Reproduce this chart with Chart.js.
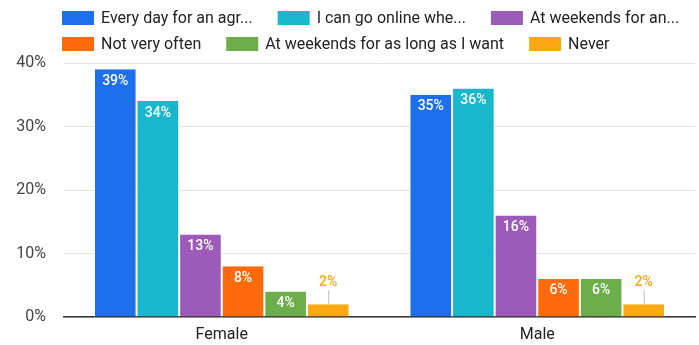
<!DOCTYPE html>
<html>
<head>
<meta charset="utf-8">
<script src="https://cdn.jsdelivr.net/npm/chart.js@4/dist/chart.umd.min.js"></script>
<style>
  html, body { margin: 0; padding: 0; background: #fff; }
  #wrap { width: 699px; height: 345px; }
</style>
</head>
<body>
<div id="wrap"><canvas id="c" width="699" height="345"></canvas></div>
<script>
// Groups on the x axis
const categories = ['Female', 'Male'];

// Answer options (legend text, as shown)
const seriesNames = [
  'Every day for an agr...',
  'I can go online whe...',
  'At weekends for an...',
  'Not very often',
  'At weekends for as long as I want',
  'Never'
];

// Share of respondents (%) per answer, [Female, Male]
const everyDay       = [39, 35];
const canGoOnline    = [34, 36];
const weekendsAgreed = [13, 16];
const notVeryOften   = [8, 6];
const weekendsLong   = [4, 6];
const never          = [2, 2];

const yTicks = [0, 10, 20, 30, 40];

const seriesValues = [everyDay, canGoOnline, weekendsAgreed, notVeryOften, weekendsLong, never];
const seriesColors = ['#1d6fec', '#19b7cb', '#9d5bb9', '#ff6a0d', '#6caf4a', '#fba812'];

const FONT = 'Roboto, "Noto Sans", sans-serif';

// Legend drawn on the canvas as a left-aligned flowing list
const flowLegend = {
  id: 'flowLegend',
  afterDraw(chart) {
    const ctx = chart.ctx;
    ctx.save();
    ctx.font = '16px ' + FONT;
    ctx.textBaseline = 'middle';
    const left = 62, maxRight = 695, boxW = 32, boxH = 14, textGap = 7, gap = 25, rowH = 26;
    let x = left, y = 18;
    chart.data.datasets.forEach(ds => {
      const w = boxW + textGap + ctx.measureText(ds.label).width;
      if (x + w > maxRight && x > left) { x = left; y += rowH; }
      ctx.fillStyle = ds.backgroundColor;
      ctx.fillRect(x, y - boxH / 2, boxW, boxH);
      ctx.fillStyle = '#222';
      ctx.textAlign = 'left';
      ctx.fillText(ds.label, x + boxW + textGap, y + 1);
      x += w + gap;
    });
    ctx.restore();
  }
};

// Percentage labels on each bar
const barLabels = {
  id: 'barLabels',
  afterDatasetsDraw(chart) {
    const ctx = chart.ctx;
    ctx.save();
    ctx.font = '500 14px ' + FONT;
    ctx.textAlign = 'center';
    ctx.textBaseline = 'middle';
    chart.data.datasets.forEach((ds, di) => {
      chart.getDatasetMeta(di).data.forEach((bar, i) => {
        const v = ds.data[i];
        const txt = v + '%';
        if (v <= 2) {
          ctx.strokeStyle = '#bbb';
          ctx.lineWidth = 1;
          ctx.beginPath();
          ctx.moveTo(bar.x + 0.5, bar.y);
          ctx.lineTo(bar.x + 0.5, bar.y - 14);
          ctx.stroke();
          ctx.fillStyle = ds.backgroundColor;
          ctx.fillText(txt, bar.x, bar.y - 22);
        } else {
          ctx.fillStyle = '#fff';
          ctx.fillText(txt, bar.x, bar.y + 12);
        }
      });
    });
    ctx.restore();
  }
};

new Chart(document.getElementById('c'), {
  type: 'bar',
  data: {
    labels: categories,
    datasets: seriesNames.map((name, k) => ({
      label: name,
      data: seriesValues[k],
      backgroundColor: seriesColors[k],
      borderColor: '#ffffff',
      borderWidth: { left: 1, right: 1, top: 0, bottom: 0 },
      borderSkipped: false,
      categoryPercentage: 0.81,
      barPercentage: 1.0
    }))
  },
  options: {
    responsive: false,
    animation: false,
    devicePixelRatio: 1,
    layout: { padding: { top: 63, right: 4, left: 0, bottom: 0 } },
    plugins: {
      legend: { display: false },
      tooltip: { enabled: false }
    },
    scales: {
      x: {
        grid: { display: false, drawTicks: false },
        border: { color: '#333', width: 1.5 },
        ticks: { color: '#222', font: { family: FONT, size: 16 }, padding: 8 },
        afterFit(s) { s.height = 28; }
      },
      y: {
        min: 0,
        max: 40,
        afterBuildTicks(s) { s.ticks = yTicks.map(v => ({ value: v })); },
        grid: { color: '#e3e3e3', drawTicks: false },
        border: { display: false },
        ticks: {
          color: '#444',
          font: { family: FONT, size: 16 },
          padding: 18,
          callback: v => v + '%'
        },
        afterFit(s) { s.width = 64; }
      }
    }
  },
  plugins: [flowLegend, barLabels]
});
</script>
</body>
</html>
